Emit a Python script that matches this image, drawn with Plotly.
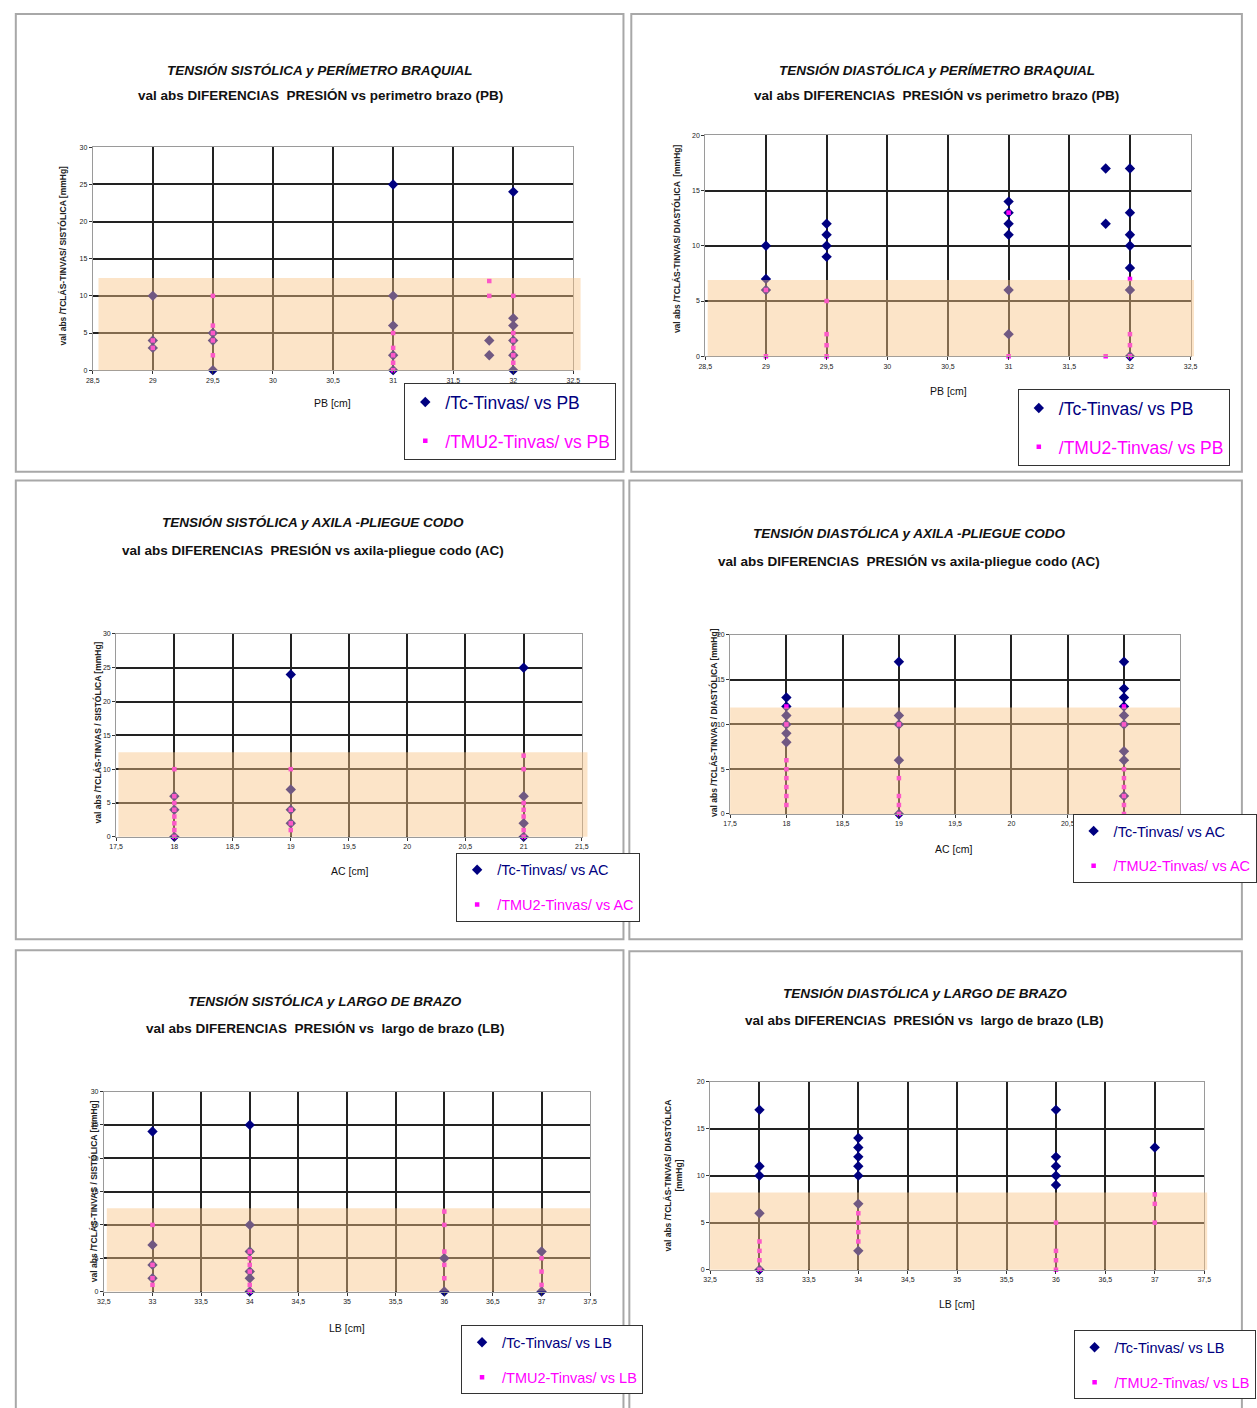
import plotly.graph_objects as go

# ---------------- DATA ----------------
# Panel 1: systolic vs PB
pb_sys_tc_x = [29, 29, 29, 29.5, 29.5, 29.5, 31, 31, 31, 31, 31, 31.8, 31.8, 32, 32, 32, 32, 32, 32]
pb_sys_tc_y = [10, 4, 3, 5, 4, 0, 25, 10, 6, 2, 0, 4, 2, 24, 7, 6, 4, 2, 0]
pb_sys_tmu_x = [29, 29, 29.5, 29.5, 29.5, 29.5, 29.5, 31, 31, 31, 31, 31, 31.8, 31.8, 32, 32, 32, 32, 32, 32]
pb_sys_tmu_y = [4, 3, 10, 6, 5, 4, 2, 5, 3, 2, 1, 0, 12, 10, 10, 5, 4, 3, 2, 1]

# Panel 2: diastolic vs PB
pb_dia_tc_x = [29, 29, 29, 29.5, 29.5, 29.5, 29.5, 31, 31, 31, 31, 31, 31, 31.8, 31.8, 32, 32, 32, 32, 32, 32, 32]
pb_dia_tc_y = [10, 7, 6, 12, 11, 10, 9, 14, 13, 12, 11, 6, 2, 17, 12, 17, 13, 11, 10, 8, 6, 0]
pb_dia_tmu_x = [29, 29, 29.5, 29.5, 29.5, 29.5, 31, 31, 31.8, 32, 32, 32, 32]
pb_dia_tmu_y = [6, 0, 5, 2, 1, 0, 13, 0, 0, 7, 2, 1, 0]

# Panel 3: systolic vs AC
ac_sys_tc_x = [18, 18, 18, 19, 19, 19, 19, 21, 21, 21, 21]
ac_sys_tc_y = [6, 4, 0, 24, 7, 4, 2, 25, 6, 2, 0]
ac_sys_tmu_x = [18, 18, 18, 18, 18, 18, 18, 18, 19, 19, 19, 19, 21, 21, 21, 21, 21, 21, 21]
ac_sys_tmu_y = [10, 6, 5, 4, 3, 2, 1, 0, 10, 4, 2, 1, 12, 10, 5, 4, 3, 1, 0]

# Panel 4: diastolic vs AC
ac_dia_tc_x = [18, 18, 18, 18, 18, 18, 19, 19, 19, 19, 19, 21, 21, 21, 21, 21, 21, 21, 21, 21]
ac_dia_tc_y = [13, 12, 11, 10, 9, 8, 17, 11, 10, 6, 0, 17, 14, 13, 12, 11, 10, 7, 6, 2]
ac_dia_tmu_x = [18, 18, 18, 18, 18, 18, 18, 18, 19, 19, 19, 19, 19, 21, 21, 21, 21, 21, 21, 21, 21]
ac_dia_tmu_y = [12, 10, 6, 5, 4, 3, 2, 1, 10, 4, 2, 1, 0, 12, 10, 5, 4, 3, 2, 1, 0]

# Panel 5: systolic vs LB
lb_sys_tc_x = [33, 33, 33, 33, 34, 34, 34, 34, 34, 34, 36, 36, 37, 37]
lb_sys_tc_y = [24, 7, 4, 2, 25, 10, 6, 3, 2, 0, 5, 0, 6, 0]
lb_sys_tmu_x = [33, 33, 33, 33, 34, 34, 34, 34, 34, 34, 36, 36, 36, 36, 36, 37, 37, 37]
lb_sys_tmu_y = [10, 4, 2, 1, 6, 5, 4, 3, 1, 0, 12, 10, 6, 4, 2, 5, 3, 1]

# Panel 6: diastolic vs LB
lb_dia_tc_x = [33, 33, 33, 33, 33, 34, 34, 34, 34, 34, 34, 34, 36, 36, 36, 36, 36, 37]
lb_dia_tc_y = [17, 11, 10, 6, 0, 14, 13, 12, 11, 10, 7, 2, 17, 12, 11, 10, 9, 13]
lb_dia_tmu_x = [33, 33, 33, 33, 34, 34, 34, 34, 36, 36, 36, 36, 37, 37, 37]
lb_dia_tmu_y = [3, 2, 1, 0, 6, 5, 4, 3, 5, 2, 1, 0, 8, 7, 5]

# Upper limit of the shaded band for each panel
band_tops = [12.4, 6.9, 12.5, 11.9, 12.5, 8.2]

# x tick values / labels (the last two AC labels of panel 4 sit under its legend box)
pb_xticks = [28.5, 29, 29.5, 30, 30.5, 31, 31.5, 32, 32.5]
pb_xticklabels = ["28,5", "29", "29,5", "30", "30,5", "31", "31,5", "32", "32,5"]
ac_xticks = [17.5, 18, 18.5, 19, 19.5, 20, 20.5, 21, 21.5]
ac_xticklabels = ["17,5", "18", "18,5", "19", "19,5", "20", "20,5", "21", "21,5"]
ac_dia_xticklabels = ["17,5", "18", "18,5", "19", "19,5", "20", "20,5", "", ""]
lb_xticks = [32.5, 33, 33.5, 34, 34.5, 35, 35.5, 36, 36.5, 37, 37.5]
lb_xticklabels = ["32,5", "33", "33,5", "34", "34,5", "35", "35,5", "36", "36,5", "37", "37,5"]

titles1 = ["TENSIÓN SISTÓLICA y PERÍMETRO BRAQUIAL", "TENSIÓN DIASTÓLICA y PERÍMETRO BRAQUIAL",
           "TENSIÓN SISTÓLICA y AXILA -PLIEGUE CODO", "TENSIÓN DIASTÓLICA y AXILA -PLIEGUE CODO",
           "TENSIÓN SISTÓLICA y LARGO DE BRAZO", "TENSIÓN DIASTÓLICA y LARGO DE BRAZO"]
titles2 = ["val abs DIFERENCIAS  PRESIÓN vs perimetro brazo (PB)",
           "val abs DIFERENCIAS  PRESIÓN vs perimetro brazo (PB)",
           "val abs DIFERENCIAS  PRESIÓN vs axila-pliegue codo (AC)",
           "val abs DIFERENCIAS  PRESIÓN vs axila-pliegue codo (AC)",
           "val abs DIFERENCIAS  PRESIÓN vs  largo de brazo (LB)",
           "val abs DIFERENCIAS  PRESIÓN vs  largo de brazo (LB)"]
xtitles = ["PB [cm]", "PB [cm]", "AC [cm]", "AC [cm]", "LB [cm]", "LB [cm]"]
ytitles = ["val abs /TCLÁS-TINVAS/ SISTÓLICA [mmHg]", "val abs /TCLÁS-TINVAS/ DIASTÓLICA  [mmHg]",
           "val abs /TCLÁS-TINVAS / SISTÓLICA [mmHg]", "val abs /TCLÁS-TINVAS / DIASTÓLICA [mmHg]",
           "val abs /TCLÁS-TINVAS / SISTÓLICA [mmHg]", "val abs /TCLÁS-TINVAS/ DIASTÓLICA<br>[mmHg]"]
tc_names = ["/Tc-Tinvas/ vs PB", "/Tc-Tinvas/ vs PB", "/Tc-Tinvas/ vs AC",
            "/Tc-Tinvas/ vs AC", "/Tc-Tinvas/ vs LB", "/Tc-Tinvas/ vs LB"]
tmu_names = ["/TMU2-Tinvas/ vs PB", "/TMU2-Tinvas/ vs PB", "/TMU2-Tinvas/ vs AC",
             "/TMU2-Tinvas/ vs AC", "/TMU2-Tinvas/ vs LB", "/TMU2-Tinvas/ vs LB"]
x_ranges = [[28.5, 32.5], [28.5, 32.5], [17.5, 21.5], [17.5, 21.5], [32.5, 37.5], [32.5, 37.5]]
y_ranges = [[0, 30], [0, 20], [0, 30], [0, 20], [0, 30], [0, 20]]

series = [
    (pb_sys_tc_x, pb_sys_tc_y, pb_sys_tmu_x, pb_sys_tmu_y),
    (pb_dia_tc_x, pb_dia_tc_y, pb_dia_tmu_x, pb_dia_tmu_y),
    (ac_sys_tc_x, ac_sys_tc_y, ac_sys_tmu_x, ac_sys_tmu_y),
    (ac_dia_tc_x, ac_dia_tc_y, ac_dia_tmu_x, ac_dia_tmu_y),
    (lb_sys_tc_x, lb_sys_tc_y, lb_sys_tmu_x, lb_sys_tmu_y),
    (lb_dia_tc_x, lb_dia_tc_y, lb_dia_tmu_x, lb_dia_tmu_y),
]
xticks = [(pb_xticks, pb_xticklabels), (pb_xticks, pb_xticklabels),
          (ac_xticks, ac_xticklabels), (ac_xticks, ac_dia_xticklabels),
          (lb_xticks, lb_xticklabels), (lb_xticks, lb_xticklabels)]

# ---------------- LAYOUT (pixel geometry) ----------------
W, H = 1257, 1408
FONT = "Arial, Liberation Sans, sans-serif"
NAVY = "#000080"
MAGENTA = "#FF00FF"


def fx(v):
    return v / W


def fy(v):
    return 1 - v / H


# plot area: (x_left, x_right, y_top, y_bottom) in px
plot_boxes = [(87.6, 578.8, 144, 368), (713.6, 1209.6, 132, 354),
              (111.5, 587.5, 633, 837), (739, 1199, 634, 814),
              (99, 596, 1093, 1294), (718.5, 1223.5, 1083, 1272)]
panel_boxes = [(9, 630, 10, 470), (638, 1262, 10, 470),
               (9, 630, 479, 940), (636, 1262, 479, 940),
               (9, 630, 951, 1412), (636, 1262, 952, 1412)]
band_x = [(0.012, 1.015), (0.005, 1.007), (0.005, 1.012), (0.0, 1.0), (0.006, 1.0), (0.0, 1.006)]
title_pos = [(320, 67, 92), (950, 67, 92), (313, 521, 549), (922, 532, 560), (325, 1002, 1030), (938, 994, 1022)]
xtitle_pos = [(333, 401), (962, 389), (350, 871), (967, 849), (347, 1331), (971, 1306)]
ytitle_pos = [(57, 253), (685, 236), (92, 732), (722, 722), (88, 1193), (681, 1177)]
legend_pos = [(406, 381, 17.5, 13), (1033, 387, 17.5, 13), (459, 853, 14.5, 13),
              (1089, 814, 14.5, 13), (464, 1328, 14.5, 13), (1090, 1333, 14.5, 13)]

fig = go.Figure()
shapes = []
annotations = []
layout = dict(width=W, height=H, margin=dict(l=0, r=0, t=0, b=0), autosize=False,
              paper_bgcolor="white", plot_bgcolor="white",
              separators=",.", font=dict(family=FONT, color="#000"))

for i in range(6):
    k = "" if i == 0 else str(i + 1)
    xa, ya = "x" + k, "y" + k
    leg = "legend" + k
    tcx, tcy, tmx, tmy = series[i]
    fig.add_trace(go.Scatter(
        x=tcx, y=tcy, mode="markers", xaxis=xa, yaxis=ya, legend=leg,
        legendgroup=f"tc{i}", cliponaxis=False,
        name=f'<span style="color:{NAVY}">{tc_names[i]}</span>',
        marker=dict(symbol="diamond", size=8, color=NAVY)))
    fig.add_trace(go.Scatter(
        x=tmx, y=tmy, mode="markers", xaxis=xa, yaxis=ya, legend=leg,
        legendgroup=f"tm{i}", cliponaxis=False,
        name=f'<span style="color:{MAGENTA}">{tmu_names[i]}</span>',
        marker=dict(symbol="square", size=4.5, color=MAGENTA)))

    x0, x1, y0, y1 = plot_boxes[i]
    common = dict(showgrid=True, gridcolor="#222", gridwidth=1.6, zeroline=False,
                  showline=True, linecolor="#9a9a9a", linewidth=1, mirror=True,
                  ticks="outside", ticklen=3, tickcolor="#333",
                  tickfont=dict(size=7, family=FONT, color="#222"), fixedrange=True)
    tv, tt = xticks[i]
    layout["xaxis" + k] = dict(common, domain=[fx(x0), fx(x1)], range=x_ranges[i],
                               tickmode="array", tickvals=tv, ticktext=tt, anchor=ya)
    layout["yaxis" + k] = dict(common, domain=[fy(y1), fy(y0)], range=y_ranges[i],
                               tick0=0, dtick=5, anchor=xa)

    # shaded band (semi-transparent, above data)
    bx0, bx1 = band_x[i]
    shapes.append(dict(type="rect", xref=xa + " domain", yref=ya,
                       x0=bx0, x1=bx1, y0=-y_ranges[i][1] * 0.01, y1=band_tops[i],
                       fillcolor="rgb(248,195,133)", opacity=0.45, line=dict(width=0),
                       layer="above"))
    # panel border
    px0, px1, py0, py1 = panel_boxes[i]
    shapes.append(dict(type="rect", xref="paper", yref="paper",
                       x0=fx(px0), x1=fx(px1), y0=fy(py1), y1=fy(py0),
                       line=dict(color="#a8a8a8", width=2), fillcolor="rgba(0,0,0,0)",
                       layer="below"))

    tx, ty1, ty2 = title_pos[i]
    ann = dict(xref="paper", yref="paper", showarrow=False, xanchor="center", yanchor="middle")
    annotations.append(dict(ann, text=f"<b><i>{titles1[i]}</i></b>", x=fx(tx), y=fy(ty1),
                            font=dict(size=13.5, family=FONT, color="#111")))
    annotations.append(dict(ann, text=f"<b>{titles2[i]}</b>", x=fx(tx), y=fy(ty2),
                            font=dict(size=13.5, family=FONT, color="#111")))
    xtx, xty = xtitle_pos[i]
    annotations.append(dict(ann, text=xtitles[i], x=fx(xtx), y=fy(xty),
                            font=dict(size=10.5, family=FONT, color="#111")))
    ytx, yty = ytitle_pos[i]
    annotations.append(dict(ann, text=f"<b>{ytitles[i]}</b>", x=fx(ytx), y=fy(yty),
                            textangle=-90,
                            font=dict(size=8.5, family=FONT, color="#222")))

    lx, ly, lfs, lgap = legend_pos[i]
    layout[leg] = dict(x=fx(lx), y=fy(ly), xref="paper", yref="paper",
                       xanchor="left", yanchor="top", bgcolor="white",
                       bordercolor="#333", borderwidth=1,
                       font=dict(size=lfs, family=FONT), tracegroupgap=lgap,
                       traceorder="grouped", itemsizing="trace")

layout["shapes"] = shapes
layout["annotations"] = annotations
layout["showlegend"] = True
fig.update_layout(**layout)
fig.write_html("out.html", config={"displayModeBar": False},
               post_script="document.body.style.margin='0';document.body.style.overflow='hidden';")
